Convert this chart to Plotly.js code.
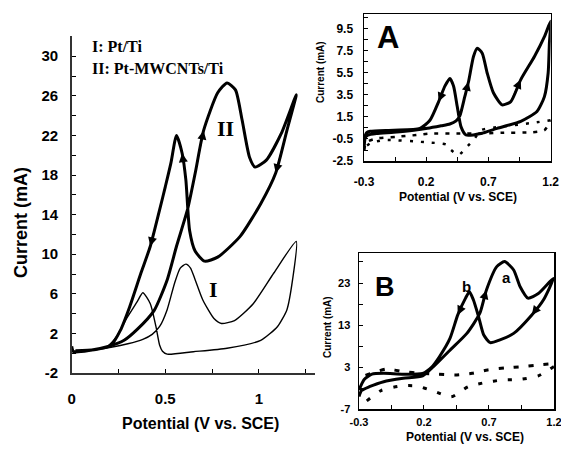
<!DOCTYPE html>
<html>
<head>
<meta charset="utf-8">
<script src="https://cdn.plot.ly/plotly-3.0.1.min.js"></script>
<style>
html,body{margin:0;padding:0;background:#fff;}
#chart{width:561px;height:450px;}
</style>
</head>
<body>
<div id="chart"></div>
<script>
// ---------- Main panel: curve I (Pt/Ti) ----------
const mainI_x = [0.0, 0.01, 0.1, 0.21, 0.30, 0.38, 0.43, 0.47, 0.51, 0.55, 0.58, 0.61, 0.635, 0.66, 0.70, 0.76, 0.80, 0.87, 0.97, 1.08, 1.2,
                 1.18, 1.15, 1.10, 1.01, 0.83, 0.65, 0.51, 0.485, 0.47, 0.45, 0.42, 0.38, 0.35, 0.29, 0.24, 0.19, 0.08, 0.0];
const mainI_y = [0.6, 0.15, 0.3, 0.6, 0.95, 1.4, 1.9, 2.7, 4.4, 7.1, 8.6, 9.0, 8.6, 7.4, 5.4, 3.5, 3.0, 3.3, 5.0, 8.1, 11.3,
                 7.4, 4.4, 2.7, 1.3, 0.5, 0.15, -0.1, 0.2, 0.8, 2.7, 5.0, 6.1, 5.2, 3.4, 1.7, 0.7, 0.25, 0.2];

// ---------- Main panel: curve II (Pt-MWCNTs/Ti) ----------
const mainII_x = [0.0, 0.01, 0.1, 0.2, 0.28, 0.35, 0.44, 0.51, 0.56, 0.62, 0.66, 0.705, 0.78, 0.83, 0.875, 0.91, 0.95, 0.98, 1.04, 1.12, 1.2,
                  1.15, 1.09, 1.01, 0.90, 0.78, 0.71, 0.66, 0.63, 0.61, 0.59, 0.56, 0.53, 0.50, 0.47, 0.42, 0.37, 0.31, 0.26, 0.21, 0.12, 0.02];
const mainII_y = [0.7, 0.15, 0.3, 0.7, 1.3, 2.4, 4.3, 7.4, 10.8, 14.6, 18.2, 22.5, 26.3, 27.3, 26.6, 23.6, 19.8, 18.8, 19.5, 22.2, 26.1,
                  22.5, 18.2, 15.1, 11.8, 9.7, 9.3, 10.3, 12.4, 17.5, 20.2, 22.0, 19.2, 16.8, 14.5, 10.8, 8.1, 4.7, 2.3, 0.8, 0.35, 0.25];
const mainII_arrows = [11, 22, 30, 35];

// ---------- Inset A ----------
const A_x = [-0.3, -0.29, -0.27, -0.2, -0.06, 0.1, 0.21, 0.32, 0.39, 0.44, 0.47, 0.51, 0.54, 0.58, 0.61, 0.65, 0.69, 0.74, 0.81, 0.88, 0.96, 1.07, 1.15, 1.2,
             1.19, 1.18, 1.15, 1.09, 0.96, 0.77, 0.64, 0.52, 0.48, 0.45, 0.42, 0.39, 0.35, 0.30, 0.23, 0.15, -0.06, -0.25, -0.28, -0.3];
const A_y = [-1.5, -0.4, -0.15, 0.0, 0.12, 0.3, 0.47, 0.7, 0.86, 1.15, 1.6, 3.35, 4.7, 7.0, 7.75, 7.3, 5.5, 3.7, 2.6, 2.9, 4.9, 7.0, 8.8, 10.2,
             8.2, 5.5, 3.35, 2.0, 1.1, 0.47, 0.0, -0.14, 0.6, 2.4, 4.3, 5.0, 4.3, 2.9, 1.2, 0.47, 0.3, 0.2, 0.07, -0.5];
const A_arrows = [12, 20, 37];
const A_bgF_x = [-0.3, -0.28, -0.2, -0.04, 0.12, 0.23, 0.45, 0.66, 0.82, 1.04, 1.15, 1.2];
const A_bgF_y = [-1.5, -0.8, -0.45, -0.3, -0.14, 0.0, 0.0, 0.0, 0.07, 0.1, 0.3, 1.2];
const A_bgR_x = [1.2, 1.03, 0.85, 0.74, 0.64, 0.58, 0.52, 0.46, 0.40, 0.36, 0.2, -0.14, -0.25, -0.3];
const A_bgR_y = [1.2, 0.93, 0.68, 0.53, 0.3, -0.6, -1.3, -1.95, -1.5, -1.0, -0.8, -0.6, -0.9, -1.3];

// ---------- Inset B ----------
const B_x = [-0.3, -0.28, -0.22, -0.11, 0.04, 0.19, 0.27, 0.40, 0.53, 0.63, 0.68, 0.76, 0.82, 0.89, 0.94, 1.0, 1.08, 1.195,
             1.12, 1.03, 0.89, 0.78, 0.71, 0.66, 0.62, 0.58, 0.55, 0.52, 0.46, 0.40, 0.32, 0.26, 0.19, 0.04, -0.11, -0.2, -0.26, -0.3];
const B_y = [-4.0, -2.6, -1.7, -0.5, 0.3, 0.9, 3.0, 7.0, 11.0, 15.8, 21.3, 26.9, 28.1, 26.1, 22.1, 19.4, 20.5, 24.1,
             19.0, 15.4, 11.0, 9.4, 8.8, 10.6, 15.0, 19.0, 20.9, 19.4, 15.4, 9.8, 5.5, 3.0, 1.5, 1.3, 1.5, 1.3, 0.0, -2.5];
const B_arrows = [10, 19, 28];
const B_bgU_x = [-0.25, -0.09, 0.04, 0.18, 0.31, 0.44, 0.57, 0.69, 0.83, 0.96, 1.09, 1.2];
const B_bgU_y = [1.0, 2.5, 1.9, 1.5, 1.3, 1.1, 1.5, 2.3, 2.8, 3.1, 3.5, 3.8];
const B_bgL_x = [1.2, 1.08, 0.94, 0.80, 0.67, 0.54, 0.41, 0.27, 0.14, 0.02, -0.13, -0.25, -0.3];
const B_bgL_y = [3.1, 0.9, 0.05, -0.1, -0.7, -1.7, -4.1, -2.7, -1.5, -1.5, -2.6, -5.3, -6.5];

// ---------- Tick values / text ----------
const mainXTicks = [0, 0.5, 1];
const mainYTicks = [-2, 2, 6, 10, 14, 18, 22, 26, 30];
const insetXTicks = [-0.3, 0.2, 0.7, 1.2];
const A_yTicks = [-2.5, -0.5, 1.5, 3.5, 5.5, 7.5, 9.5];
const B_yTicks = [-7, 3, 13, 23];
const mainXTitle = 'Potential (V vs. SCE)';
const yTitle = 'Current (mA)';
const legendLines = ['I: Pt/Ti', 'II: Pt-MWCNTs/Ti'];

const W = 561, H = 450;
const px = v => v / W;
const py = v => (H - v) / H;

function line(x, y, xa, ya, width, dash) {
  return {x: x, y: y, xaxis: xa, yaxis: ya, mode: 'lines', type: 'scatter', hoverinfo: 'skip',
          line: {color: '#000', width: width, dash: dash || 'solid', shape: 'spline', smoothing: 0.6}};
}

const traces = [
  line(mainI_x, mainI_y, 'x', 'y', 1.4),
  line(mainII_x, mainII_y, 'x', 'y', 3),
  line(A_bgF_x, A_bgF_y, 'x2', 'y2', 2.5, '4px,7px'),
  line(A_bgR_x, A_bgR_y, 'x2', 'y2', 2.5, '3px,8px'),
  line(A_x, A_y, 'x2', 'y2', 3),
  line(B_bgU_x, B_bgU_y, 'x3', 'y3', 3, '5px,10px'),
  line(B_bgL_x, B_bgL_y, 'x3', 'y3', 3, '4px,11px'),
  line(B_x, B_y, 'x3', 'y3', 3)
];

function arrows(xs, ys, idx, xr, yr) {
  return idx.map(i => ({x: xs[i], y: ys[i], ax: xs[i - 1], ay: ys[i - 1], xref: xr, yref: yr, axref: xr, ayref: yr,
    showarrow: true, text: '', arrowhead: 2, arrowsize: 1.5, arrowwidth: 1.2, arrowcolor: '#000', standoff: 0}));
}

const bold = (f, s) => ({family: f, size: s, color: '#000', weight: 'bold'});
const ARIAL = 'Liberation Sans, Arial, sans-serif';
const TIMES = 'Liberation Serif, Times New Roman, serif';

const txt = (t, x, y, font, opts) => Object.assign({text: t, x: x, y: y, xref: 'paper', yref: 'paper', showarrow: false,
  xanchor: 'center', yanchor: 'middle', font: font}, opts || {});

const annotations = [
  txt('<b>' + yTitle + '</b>', px(21), py(223), bold(ARIAL, 18), {textangle: -90}),
  txt('<b>' + mainXTitle + '</b>', px(200.5), py(423.5), bold(ARIAL, 16)),
  txt('<b>' + yTitle + '</b>', px(320), py(72), bold(ARIAL, 10), {textangle: -90}),
  txt('<b>' + mainXTitle + '</b>', px(457.7), py(196.7), bold(ARIAL, 12)),
  txt('<b>' + yTitle + '</b>', px(327), py(327), bold(ARIAL, 10), {textangle: -90}),
  txt('<b>' + mainXTitle + '</b>', px(464.7), py(437), bold(ARIAL, 12)),
  txt('<b>' + legendLines[0] + '</b>', px(90), py(46.7), bold(TIMES, 16), {xanchor: 'left'}),
  txt('<b>' + legendLines[1] + '</b>', px(90), py(68.3), bold(TIMES, 16), {xanchor: 'left'}),
  txt('<b>II</b>', px(225), py(128), bold(TIMES, 22)),
  txt('<b>I</b>', px(213), py(290), bold(TIMES, 22)),
  txt('<b>A</b>', px(388), py(38), bold(ARIAL, 31)),
  txt('<b>B</b>', px(385), py(287), bold(ARIAL, 27)),
  txt('<b>b</b>', px(466), py(286), bold(ARIAL, 15)),
  txt('<b>a</b>', px(506), py(277), bold(ARIAL, 15))
].concat(arrows(mainII_x, mainII_y, mainII_arrows, 'x', 'y'))
 .concat(arrows(A_x, A_y, A_arrows, 'x2', 'y2'))
 .concat(arrows(B_x, B_y, B_arrows, 'x3', 'y3'));

function axis(o) {
  return Object.assign({showgrid: false, zeroline: false, showline: true, linecolor: '#000', linewidth: 1.5,
    ticks: 'inside', ticklen: 4, tickwidth: 1, tickcolor: '#000', fixedrange: true, tickmode: 'array',
    ticklabeloverflow: 'allow'}, o);
}

const layout = {
  width: W, height: H,
  margin: {l: 0, r: 0, t: 0, b: 0},
  paper_bgcolor: '#fff', plot_bgcolor: 'rgba(0,0,0,0)',
  showlegend: false,
  xaxis: axis({domain: [px(71.7), px(315)], range: [0, 1.3], tickvals: mainXTicks, ticktext: mainXTicks.map(String), anchor: 'y',
    linecolor: '#333', tickfont: bold(ARIAL, 15), ticklabelstandoff: 11,
    minor: {ticks: 'inside', dtick: 0.25, tick0: 0, ticklen: 4, tickcolor: '#000'}}),
  yaxis: axis({domain: [py(373), py(36)], range: [-2, 32.04], tickvals: mainYTicks, ticktext: mainYTicks.map(String), anchor: 'x',
    linecolor: '#333', tickfont: bold(ARIAL, 15), ticklabelstandoff: 9,
    minor: {ticks: 'inside', dtick: 2, tick0: -2, ticklen: 4, tickcolor: '#000'}}),
  xaxis2: axis({domain: [px(364), px(550.7)], range: [-0.3, 1.2005], tickvals: insetXTicks, ticktext: insetXTicks.map(String), anchor: 'y2', mirror: true,
    tickfont: bold(ARIAL, 12), ticklabelstandoff: 9,
    minor: {ticks: 'inside', dtick: 0.25, tick0: -0.3, ticklen: 4, tickcolor: '#000'}}),
  yaxis2: axis({domain: [py(161), py(14)], range: [-2.5, 10.86], tickvals: A_yTicks, ticktext: A_yTicks.map(String), anchor: 'x2', mirror: true,
    tickfont: bold(ARIAL, 12), ticklabelstandoff: 7,
    minor: {ticks: 'inside', dtick: 1, tick0: -2.5, ticklen: 4, tickcolor: '#000'}}),
  xaxis3: axis({domain: [px(359), px(554)], range: [-0.3, 1.2005], tickvals: insetXTicks, ticktext: insetXTicks.map(String), anchor: 'y3', mirror: true,
    tickfont: bold(ARIAL, 11), ticklabelstandoff: 2,
    minor: {ticks: 'inside', dtick: 0.25, tick0: -0.3, ticklen: 4, tickcolor: '#000'}}),
  yaxis3: axis({domain: [py(409), py(253.3)], range: [-7, 30.07], tickvals: B_yTicks, ticktext: B_yTicks.map(String), anchor: 'x3', mirror: true,
    tickfont: bold(ARIAL, 11), ticklabelstandoff: 5,
    minor: {ticks: 'inside', dtick: 5, tick0: -7, ticklen: 4, tickcolor: '#000'}}),
  annotations: annotations
};

Plotly.newPlot('chart', traces, layout, {displayModeBar: false, staticPlot: true});
</script>
</body>
</html>
